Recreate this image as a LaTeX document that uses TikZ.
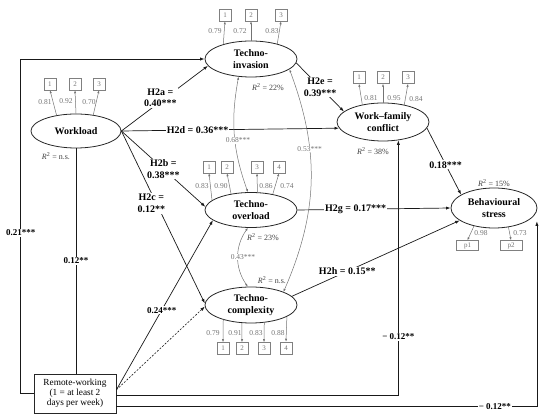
\documentclass[tikz,border=0pt]{standalone}
\usepackage{fontspec}
\setmainfont{Liberation Serif}
\usetikzlibrary{shapes.geometric,arrows.meta}
\tikzset{
 lat/.style={ellipse, draw=black!85, line width=0.8pt, inner sep=0pt, align=center, font=\fontsize{10}{11.5}\selectfont\bfseries},
 ind/.style={draw=black!50, line width=0.5pt, minimum width=12pt, minimum height=12pt, inner sep=0pt, text=black!55, font=\fontsize{7}{8}\selectfont},
 ld/.style={text=black!55, font=\fontsize{7.5}{8}\selectfont, inner sep=0.5pt},
 rsq/.style={text=black!75, font=\fontsize{8}{9}\selectfont, inner sep=0.5pt},
 arr/.style={draw=black!90, line width=0.7pt, -{Latex[length=4.5pt,width=3.2pt]}},
 plainline/.style={draw=black!90, line width=0.7pt},
 garr/.style={draw=black!55, line width=0.5pt, -{Latex[length=3pt,width=2.2pt]}},
 corr/.style={draw=black!55, line width=0.5pt, {Latex[length=3pt,width=2.2pt]}-{Latex[length=3pt,width=2.2pt]}},
 hl/.style={font=\fontsize{10}{11.5}\selectfont\bfseries, align=center, fill=white, inner sep=1pt},
 sl/.style={font=\fontsize{9}{10}\selectfont\bfseries, fill=white, inner sep=1pt},
 cl/.style={text=black!55, font=\fontsize{7.5}{8}\selectfont, fill=white, inner sep=0.5pt},
}
\begin{document}
\begin{tikzpicture}[x=1pt,y=-1pt]
\useasboundingbox (0,0) rectangle (550,419);
% latent variables
\node[lat, minimum width=90pt, minimum height=34pt] (wl) at (76,131) {Workload};
\node[lat, minimum width=92pt, minimum height=36pt] (inv) at (251,59) {Techno-\\invasion};
\node[lat, minimum width=92pt, minimum height=38pt] (wfc) at (383,122) {Work–family\\conflict};
\node[lat, minimum width=92pt, minimum height=35pt] (ovl) at (251,210) {Techno-\\overload};
\node[lat, minimum width=92pt, minimum height=36pt] (cpx) at (251,305) {Techno-\\complexity};
\node[lat, minimum width=86pt, minimum height=40pt] (bs) at (494,208) {Behavioural\\stress};
\node[draw=black!85, line width=0.7pt, minimum width=82pt, minimum height=39pt, align=center, font=\fontsize{9.3}{10}\selectfont, inner sep=1pt] (rw) at (75,393.5) {Remote-working\\(1 = at least 2\\days per week)};

% Workload indicators
\node[ind] (w1) at (50,84) {1};
\node[ind] (w2) at (75,84) {2};
\node[ind] (w3) at (99,84) {3};
\draw[garr] (wl.141) -- (w1.south);
\draw[garr] (wl.90) -- (w2.south);
\draw[garr] (wl.43) -- (w3.south);
\node[ld] (lw1) at (45,102) {0.81};
\node[ld] (lw2) at (66,101) {0.92};
\node[ld] (lw3) at (89,102) {0.70};
\node[rsq] (rwl) at (56,156) {\textit{R}\textsuperscript{2} = n.s.};

% Techno-invasion indicators
\node[ind] (i1) at (225,15) {1};
\node[ind] (i2) at (251,15) {2};
\node[ind] (i3) at (281,15) {3};
\draw[garr] (inv.152) -- (i1.south);
\draw[garr] (inv.90) -- (i2.south);
\draw[garr] (inv.30) -- (i3.south);
\node[ld] (li1) at (215,31) {0.79};
\node[ld] (li2) at (240,31) {0.72};
\node[ld] (li3) at (272,31) {0.83};
\node[rsq] (rinv) at (268,87) {\textit{R}\textsuperscript{2} = 22\%};

% Work-family conflict indicators
\node[ind] (f1) at (359,77.5) {1};
\node[ind] (f2) at (383,77.5) {2};
\node[ind] (f3) at (408,77.5) {3};
\draw[garr] (wfc.140) -- (f1.south);
\draw[garr] (wfc.90) -- (f2.south);
\draw[garr] (wfc.39) -- (f3.south);
\node[ld] (lf1) at (371,98) {0.81};
\node[ld] (lf2) at (394,98) {0.95};
\node[ld] (lf3) at (416,99) {0.84};
\node[rsq] (rwfc) at (373,151) {\textit{R}\textsuperscript{2} = 38\%};

% Techno-overload indicators
\node[ind] (o1) at (209,167) {1};
\node[ind] (o2) at (227,167) {2};
\node[ind] (o3) at (257,167) {3};
\node[ind] (o4) at (279,167) {4};
\draw[garr] (ovl.166) -- (o1.south);
\draw[garr] (ovl.141) -- (o2.south);
\draw[garr] (ovl.70) -- (o3.south);
\draw[garr] (ovl.36) -- (o4.south);
\node[ld] (lo1) at (202,186) {0.83};
\node[ld] (lo2) at (221,186) {0.90};
\node[ld] (lo3) at (266,186) {0.86};
\node[ld] (lo4) at (287,186) {0.74};
\node[rsq] (rovl) at (263,237) {\textit{R}\textsuperscript{2} = 23\%};

% Techno-complexity indicators
\node[ind] (c1) at (223,348.5) {1};
\node[ind] (c2) at (242,348.5) {2};
\node[ind] (c3) at (264,348.5) {3};
\node[ind] (c4) at (286,348) {4};
\draw[garr] (cpx.208) -- (c1.north);
\draw[garr] (cpx.243) -- (c2.north);
\draw[garr] (cpx.307) -- (c3.north);
\draw[garr] (cpx.342) -- (c4.north);
\node[ld] (lc1) at (213,333) {0.79};
\node[ld] (lc2) at (235,333) {0.91};
\node[ld] (lc3) at (256,333) {0.83};
\node[ld] (lc4) at (278,333) {0.88};
\node[rsq] (rcpx) at (272,280) {\textit{R}\textsuperscript{2} = n.s.};

% Behavioural stress indicators
\node[ind, minimum width=22pt, minimum height=10pt] (p1) at (467.5,245.5) {p1};
\node[ind, minimum width=22pt, minimum height=10pt] (p2) at (511,245.5) {p2};
\draw[garr] (bs.-138) -- (p1.north);
\draw[garr] (bs.-53) -- (p2.north);
\node[ld] (lp1) at (481,233) {0.98};
\node[ld] (lp2) at (520,233) {0.73};
\node[rsq] (rbs) at (494,183) {\textit{R}\textsuperscript{2} = 15\%};

% structural paths
\draw[arr] (wl.east) -- node[hl,pos=0.45,yshift=4pt]{H2a =\\0.40***} (inv.189);
\draw[arr] (wl.east) -- node[hl,pos=0.35]{H2d = 0.36***} (wfc.188);
\draw[arr] (wl.east) -- node[hl,pos=0.5]{H2b =\\0.38***} (ovl.176);
\draw[arr] (wl.east) -- node[hl,pos=0.42,xshift=-5pt]{H2c =\\0.12**} (cpx.178);
\draw[arr] (inv.-5) -- node[hl,pos=0.5]{H2e =\\0.39***} (wfc.165);
\draw[arr] (wfc.-8) -- node[hl,pos=0.55]{0.18***} (bs.158);
\draw[arr] (ovl.east) -- node[hl,pos=0.38]{H2g = 0.17***} (bs.west);
\draw[arr] (cpx.12) -- node[hl,pos=0.33]{H2h = 0.15**} (bs.200);

% remote-working paths
\draw[arr] (rw.west) -- ++(-13,0) |- node[sl,pos=0.24]{0.21***} (inv.west);
\draw[plainline] (wl.south |- rw.north) -- node[sl,pos=0.5]{0.12**} (wl.south);
\draw[arr] (rw.5) -- node[sl,pos=0.47]{0.24***} (ovl.195);
\draw[arr, line width=0.6pt, dash pattern=on 2pt off 1.5pt] (rw.5) -- (cpx.182);
\draw[arr] (rw.-3.5) -| node[sl,pos=0.615]{− 0.12**} (wfc.-50);
\draw[arr] (rw.-17) -| node[sl,pos=0.45]{− 0.12**} ([xshift=10pt]bs.-22);

% correlations
\draw[corr] (inv.-125) to[bend right=15] node[cl,pos=0.55,xshift=3pt]{0.68***} (ovl.100);
\draw[corr] (inv.-15) to[bend left=22] node[cl,pos=0.35]{0.53***} (cpx.22);
\draw[corr] (ovl.-100) to[bend right=35] node[cl,xshift=5pt]{0.43***} (cpx.100);
\end{tikzpicture}
\end{document}
